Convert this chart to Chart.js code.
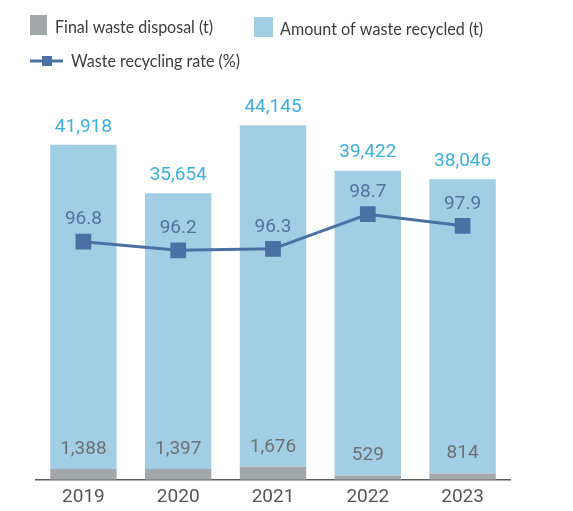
<!DOCTYPE html>
<html>
<head>
<meta charset="utf-8">
<script src="https://cdn.jsdelivr.net/npm/chart.js@4"></script>
<style>
  html, body { margin: 0; padding: 0; background: #fff; }
  #wrap { width: 573px; height: 511px; position: relative; }
</style>
</head>
<body>
<div id="wrap"><canvas id="wasteChart"></canvas></div>
<script>
// chart values
const years = ['2019', '2020', '2021', '2022', '2023'];
const finalDisposal = [1388, 1397, 1676, 529, 814];
const recycled = [41918, 35654, 44145, 39422, 38046];
const recyclingRate = [96.8, 96.2, 96.3, 98.7, 97.9];

const grayColor = '#a2a7aa';
const blueColor = '#a1cee4';
const lineColor = '#4b70a3';

const fmt = v => v.toLocaleString('en-US');

// draws the value labels above bars / points
const valueLabels = {
    id: 'valueLabels',
    afterDatasetsDraw(chart) {
        const ctx = chart.ctx;
        ctx.save();
        ctx.textAlign = 'center';
        ctx.textBaseline = 'middle';
        ctx.font = '19px Roboto';

        chart.getDatasetMeta(0).data.forEach((bar, i) => {
            ctx.fillStyle = '#6d7174';
            ctx.fillText(fmt(finalDisposal[i]), bar.x, bar.y - 20);
        });
        chart.getDatasetMeta(1).data.forEach((bar, i) => {
            ctx.fillStyle = '#3dafdb';
            ctx.fillText(fmt(recycled[i]), bar.x, bar.y - 18);
        });
        chart.getDatasetMeta(2).data.forEach((pt, i) => {
            ctx.fillStyle = '#52729f';
            ctx.fillText(recyclingRate[i].toFixed(1), pt.x, pt.y - 22);
        });
        ctx.restore();
    }
};

// legend in two rows, left aligned
const customLegend = {
    id: 'customLegend',
    afterDraw(chart) {
        const ctx = chart.ctx;
        ctx.save();
        ctx.font = '17px Lato';
        ctx.fillStyle = '#3c3c3c';
        ctx.textBaseline = 'middle';

        ctx.fillStyle = grayColor;
        ctx.fillRect(30, 15, 17, 20);
        ctx.fillStyle = '#3c3c3c';
        ctx.fillText(chart.data.datasets[0].label, 55, 28, 158);

        ctx.fillStyle = blueColor;
        ctx.fillRect(254, 17, 19, 20);
        ctx.fillStyle = '#3c3c3c';
        ctx.fillText(chart.data.datasets[1].label, 280, 30, 203);

        ctx.strokeStyle = lineColor;
        ctx.lineWidth = 3;
        ctx.beginPath();
        ctx.moveTo(30, 61);
        ctx.lineTo(63, 61);
        ctx.stroke();
        ctx.fillStyle = lineColor;
        ctx.fillRect(42, 56, 10, 10);
        ctx.fillStyle = '#3c3c3c';
        ctx.fillText(chart.data.datasets[2].label, 71, 62, 169);
        ctx.restore();
    }
};

const data = {
    labels: years,
    datasets: [
        {
            type: 'bar',
            label: 'Final waste disposal (t)',
            data: finalDisposal,
            backgroundColor: grayColor,
            yAxisID: 'y',
            stack: 'waste',
            order: 1
        },
        {
            type: 'bar',
            label: 'Amount of waste recycled (t)',
            data: recycled,
            backgroundColor: blueColor,
            yAxisID: 'y',
            stack: 'waste',
            order: 1
        },
        {
            type: 'line',
            label: 'Waste recycling rate (%)',
            data: recyclingRate,
            borderColor: lineColor,
            backgroundColor: lineColor,
            borderWidth: 3,
            pointStyle: 'rect',
            pointRadius: 9,
            pointHoverRadius: 9,
            tension: 0,
            yAxisID: 'y1',
            order: 0
        }
    ]
};

const config = {
    type: 'bar',
    data: data,
    options: {
        responsive: true,
        maintainAspectRatio: false,
        animation: false,
        layout: {
            padding: { top: 93, left: 36, right: 63, bottom: -4 }
        },
        datasets: {
            bar: {
                categoryPercentage: 1,
                barPercentage: 0.7
            }
        },
        plugins: {
            legend: { display: false },
            tooltip: { enabled: false }
        },
        scales: {
            x: {
                stacked: true,
                grid: { display: false, drawTicks: false },
                border: { display: true, color: '#5b5e61', width: 1.5 },
                ticks: {
                    color: '#555',
                    font: { family: 'Roboto', size: 19, lineHeight: 0.8 },
                    padding: 10
                }
            },
            y: {
                stacked: true,
                display: false,
                min: 0,
                max: 50000
            },
            y1: {
                display: false,
                min: 80.3,
                max: 107.1
            }
        }
    },
    plugins: [valueLabels, customLegend]
};

const wasteChart = new Chart(document.getElementById('wasteChart'), config);
</script>
</body>
</html>
